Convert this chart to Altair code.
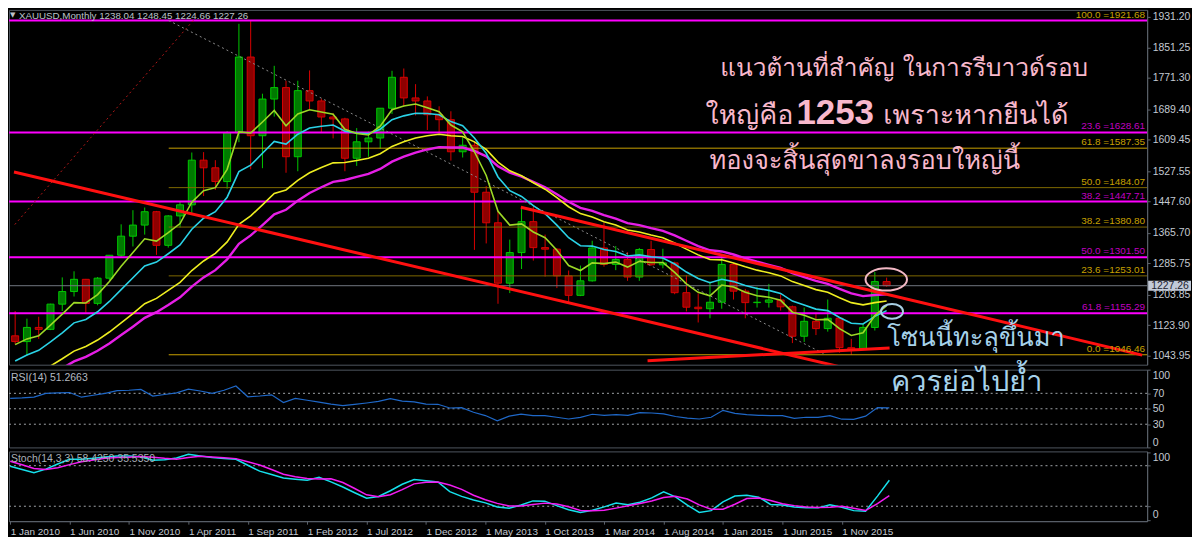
import json
import altair as alt
import pandas as pd

# ---------------- values ----------------
opens = [1096, 1081, 1118, 1113, 1179, 1212, 1244, 1181, 1247, 1307, 1357, 1386,
         1421, 1333, 1410, 1439, 1556, 1536, 1500, 1628, 1826, 1620, 1716, 1746,
         1565, 1738, 1711, 1669, 1664, 1561, 1604, 1614, 1692, 1773, 1719, 1711,
         1675, 1662, 1578, 1595, 1472, 1392, 1234, 1314, 1395, 1327, 1323, 1253,
         1202, 1240, 1326, 1283, 1296, 1250, 1322, 1282, 1287, 1209, 1171, 1167,
         1184, 1283, 1213, 1183, 1184, 1190, 1172, 1095, 1134, 1115, 1142, 1065,
         1061, 1118, 1238.04]
highs = [1161, 1141, 1146, 1180, 1249, 1265, 1245, 1250, 1307, 1388, 1425, 1432,
         1423, 1412, 1447, 1576, 1577, 1556, 1632, 1913, 1921, 1730, 1803, 1764,
         1764, 1791, 1717, 1679, 1667, 1640, 1631, 1692, 1790, 1796, 1755, 1723,
         1697, 1684, 1616, 1605, 1488, 1424, 1348, 1433, 1434, 1361, 1325, 1267,
         1280, 1345, 1392, 1331, 1315, 1326, 1345, 1324, 1290, 1255, 1207, 1238,
         1307, 1287, 1219, 1224, 1232, 1205, 1175, 1170, 1157, 1191, 1143, 1088,
         1128, 1263, 1248.45]
lows = [1074, 1044, 1088, 1111, 1161, 1199, 1157, 1176, 1242, 1300, 1330, 1361,
        1308, 1327, 1380, 1418, 1462, 1478, 1481, 1603, 1532, 1535, 1670, 1523,
        1527, 1689, 1627, 1613, 1527, 1541, 1565, 1586, 1677, 1696, 1673, 1635,
        1626, 1555, 1563, 1321, 1338, 1180, 1208, 1271, 1293, 1251, 1221, 1181,
        1200, 1238, 1277, 1268, 1240, 1240, 1280, 1273, 1205, 1160, 1131, 1142,
        1167, 1191, 1142, 1170, 1170, 1162, 1077, 1080, 1098, 1107, 1052, 1046,
        1060, 1110, 1224.66]
closes = [1081, 1118, 1113, 1179, 1212, 1244, 1181, 1247, 1307, 1357, 1386, 1421,
          1333, 1410, 1439, 1556, 1536, 1500, 1628, 1826, 1620, 1716, 1746, 1565,
          1738, 1711, 1669, 1664, 1561, 1604, 1614, 1692, 1773, 1719, 1711, 1675,
          1662, 1578, 1595, 1472, 1392, 1234, 1314, 1395, 1327, 1323, 1253, 1202,
          1240, 1326, 1283, 1296, 1250, 1322, 1282, 1287, 1209, 1171, 1167, 1184,
          1283, 1213, 1183, 1184, 1190, 1172, 1095, 1134, 1115, 1142, 1065, 1061,
          1118, 1238, 1227.26]

ma_lime = [1073, 1088, 1096, 1124, 1153, 1183, 1182, 1204, 1238, 1278, 1314, 1350,
           1344, 1366, 1390, 1446, 1476, 1484, 1532, 1630, 1627, 1656, 1686, 1646,
           1677, 1688, 1682, 1676, 1637, 1626, 1622, 1645, 1688, 1698, 1703, 1693,
           1683, 1648, 1630, 1578, 1516, 1422, 1386, 1389, 1368, 1353, 1320, 1280,
           1267, 1287, 1285, 1289, 1276, 1291, 1288, 1288, 1262, 1232, 1210, 1201,
           1229, 1224, 1210, 1201, 1197, 1189, 1158, 1150, 1138, 1139, 1115, 1097,
           1104, 1149, 1175]
ma_cyan = [1030, 1046, 1058, 1080, 1104, 1130, 1139, 1159, 1186, 1217, 1248, 1279,
           1289, 1311, 1334, 1375, 1404, 1421, 1459, 1526, 1543, 1574, 1605, 1598,
           1624, 1640, 1645, 1648, 1632, 1627, 1625, 1637, 1662, 1672, 1679, 1678,
           1675, 1657, 1646, 1614, 1574, 1512, 1476, 1461, 1437, 1416, 1386, 1353,
           1332, 1331, 1322, 1317, 1305, 1308, 1303, 1300, 1284, 1263, 1246, 1235,
           1244, 1238, 1228, 1220, 1215, 1207, 1187, 1177, 1166, 1162, 1144, 1129,
           1127, 1147, 1162]
ma_yellow = [974, 988, 1000, 1017, 1036, 1056, 1068, 1085, 1106, 1130, 1154, 1180,
             1194, 1215, 1236, 1267, 1292, 1312, 1342, 1388, 1410, 1439, 1469, 1478,
             1503, 1523, 1537, 1549, 1550, 1555, 1561, 1573, 1592, 1604, 1614, 1620,
             1624, 1620, 1618, 1604, 1584, 1551, 1528, 1515, 1497, 1480, 1458, 1434,
             1416, 1407, 1395, 1386, 1373, 1368, 1360, 1353, 1339, 1323, 1308, 1296,
             1295, 1287, 1277, 1268, 1261, 1253, 1238, 1228, 1217, 1210, 1196, 1183,
             1177, 1183, 1187]
ma_magenta = [955, 968, 979, 994, 1011, 1029, 1041, 1057, 1076, 1098, 1120, 1143,
              1158, 1177, 1197, 1225, 1249, 1268, 1296, 1337, 1359, 1386, 1414, 1426,
              1450, 1470, 1485, 1499, 1504, 1512, 1520, 1533, 1552, 1565, 1576, 1584,
              1590, 1589, 1589, 1580, 1566, 1540, 1523, 1513, 1499, 1485, 1467, 1447,
              1431, 1423, 1412, 1403, 1391, 1386, 1378, 1371, 1359, 1345, 1331, 1320,
              1317, 1309, 1299, 1290, 1282, 1274, 1260, 1250, 1240, 1232, 1219, 1207,
              1200, 1203, 1205]

rsi = [63.5, 64, 65, 70, 70.5, 71, 65, 67.5, 70, 73.5, 74, 75,
       66.5, 68.5, 70.5, 75.5, 73, 70, 74, 79.5, 65.5, 66.5, 68, 58,
       63.5, 61, 58.5, 56, 54, 55.8, 57.5, 59.5, 63, 60, 59, 56,
       55.8, 51, 51.5, 45.5, 41.2, 34.3, 40.5, 43, 41.2, 41.2, 39, 36.8,
       38.8, 42.9, 41.5, 42.5, 41.5, 45, 44.5, 43.5, 40, 38, 36.8, 39,
       48, 44, 42.5, 41.5, 41.2, 41.2, 37.5, 39, 38.8, 41, 36.5, 36.4,
       40.5, 51.5, 51.2663]
stoch_k = [79.3, 74.5, 69.8, 74.9, 82.6, 89.4, 89.4, 91, 93, 94.3, 94.3, 93.4,
           88, 88.9, 91.5, 96.8, 94.5, 92.3, 90.7, 89.5, 80.7, 72, 66.9, 61.8,
           60, 58.4, 63, 56, 48.5, 40, 31.8, 34.4, 42.9, 52.5, 59.4, 57.7,
           56, 41.6, 34.6, 29.3, 25, 18.8, 17, 21.9, 27.9, 27.5, 20.9, 14.8,
           10.9, 14, 19.1, 24.9, 22.3, 25.9, 32.3, 41.3, 33.8, 21.8, 10.8, 13.5,
           26.6, 35, 36.3, 33.4, 22.6, 21.9, 19, 17.6, 17.6, 22, 18.4, 13.5,
           12.7, 35, 58.425]
stoch_d = [86.7, 81.3, 75.9, 74.4, 77, 81.6, 85.8, 88.5, 91.1, 92, 92.7, 93.5,
           92.7, 91, 89.7, 92.3, 94, 92.9, 91.7, 90.5, 85.9, 81, 74.3, 67.5,
           63.8, 61.2, 60.2, 60.8, 55.2, 46.3, 36.9, 34.2, 37, 44.5, 53.1, 55.4,
           55.9, 51.4, 45, 36.3, 29.5, 24.2, 20.3, 20.4, 22.6, 24.6, 23.3, 19.2,
           13.7, 13.3, 14.1, 17.2, 20.7, 24, 27.8, 33, 34.8, 30.6, 22, 15.6,
           15.6, 22.9, 31.4, 32.3, 28.6, 23.6, 20.9, 18.8, 18, 18.5, 20, 17,
           13.6, 24, 35.535]

x_tick_labels = ["1 Jan 2010", "1 Jun 2010", "1 Nov 2010", "1 Apr 2011", "1 Sep 2011",
                 "1 Feb 2012", "1 Jul 2012", "1 Dec 2012", "1 May 2013", "1 Oct 2013",
                 "1 Mar 2014", "1 Aug 2014", "1 Jan 2015", "1 Jun 2015", "1 Nov 2015"]
price_ticks = [1931.20, 1851.25, 1771.30, 1689.40, 1609.45, 1527.55, 1447.60,
               1365.70, 1285.75, 1203.85, 1123.90, 1043.95]

magenta_fib_levels = ["0.0", "23.6", "38.2", "50.0", "61.8"]
magenta_fib_prices = [1921.68, 1628.61, 1447.71, 1301.50, 1155.29]
gold_fib_levels = ["100.0", "61.8", "50.0", "38.2", "23.6", "0.0"]
gold_fib_prices = [1921.68, 1587.35, 1484.07, 1380.80, 1253.01, 1046.46]
gold_fib_start = 13.04

# trendlines (month index, price) pairs
red_lines_i = [-0.1, 42.94, 53.7]
red_lines_p = [1525.0, 1432.8, 1030.9]
red_lines_i2 = [75.0, 95.7, 74.25]
red_lines_p2 = [978.8, 1045.5, 1064.0]
dot_gray = [(13.04, 1921.68), (68.85, 1046.46)]
dot_red = [(15.12, 1921.68), (-0.1, 1385.0)]

# ---------------- layout ----------------
W = 1142
H_MAIN, H_RSI, H_STO = 356, 78, 70
X_DOM = [-0.1, 95.7]
AXIS_COL = "#5c636c"
LABEL_COL = "#c4cad2"
FONT = "Liberation Sans"
THAI = ("Loma, Garuda, Noto Sans Thai Looped, Tahoma, Waree, Norasi, "
        "Noto Sans Thai, TlwgTypo, Noto Sans, sans-serif")
BULL_FILL, BULL_LINE = "#007a00", "#00c800"
BEAR_FILL, BEAR_LINE = "#8e0000", "#d80000"

n = len(closes)
idx = list(range(n))
candles = pd.DataFrame({"i": idx, "o": opens, "h": highs, "l": lows, "c": closes})
mas = pd.DataFrame({"i": idx, "lime": ma_lime, "cyan": ma_cyan,
                    "yellow": ma_yellow, "magenta": ma_magenta})
osc = pd.DataFrame({"i": idx, "rsi": rsi, "k": stoch_k, "d": stoch_d})

xs = alt.Scale(domain=X_DOM, nice=False, zero=False)
ys = alt.Scale(domain=[1020.45, 1949.47], nice=False, zero=False)

main_axis = alt.Axis(orient="right", values=price_ticks, format=".2f", grid=False,
                     title=None, domainColor=AXIS_COL, tickColor=AXIS_COL, tickSize=3,
                     labelPadding=2, labelColor=LABEL_COL, labelFont=FONT,
                     labelFontSize=10.5)


def XM(f="i"):
    return alt.X(f"{f}:Q", scale=xs, axis=None)


def YM(f):
    return alt.Y(f"{f}:Q", scale=ys, axis=main_axis)


up = alt.datum.c >= alt.datum.o

wicks = alt.Chart(candles).mark_rule(strokeWidth=1, clip=True).encode(
    x=XM(), y=YM("l"), y2="h:Q",
    color=alt.condition(up, alt.value(BULL_LINE), alt.value(BEAR_LINE)))
bodies = alt.Chart(candles).mark_bar(size=7, strokeWidth=1, clip=True,
                                     orient="vertical").encode(
    x=XM(), y=YM("o"), y2="c:Q",
    fill=alt.condition(up, alt.value(BULL_FILL), alt.value(BEAR_FILL)),
    stroke=alt.condition(up, alt.value(BULL_LINE), alt.value(BEAR_LINE)))


def ma_line(col, color, w):
    return alt.Chart(mas).mark_line(color=color, strokeWidth=w, clip=True).encode(
        x=XM(), y=YM(col))


ma_layers = [ma_line("magenta", "#e61ee6", 2.4), ma_line("yellow", "#eeee20", 1.6),
             ma_line("cyan", "#2ad2e6", 1.6), ma_line("lime", "#9cd826", 1.6)]

mag_df = pd.DataFrame({"lvl": magenta_fib_levels, "p": magenta_fib_prices})
gold_df = pd.DataFrame({"lvl": gold_fib_levels, "p": gold_fib_prices,
                        "s": [gold_fib_start] * len(gold_fib_levels)})
mag_df["t"] = [f"{l} ={p:.2f}" for l, p in zip(magenta_fib_levels, magenta_fib_prices)]
gold_df["t"] = [f"{l} ={p:.2f}" for l, p in zip(gold_fib_levels, gold_fib_prices)]

bright = "indexof(['100.0','61.8','0.0'], datum.lvl) >= 0"
gold_rules = alt.Chart(gold_df).mark_rule(strokeWidth=1, clip=True).encode(
    x=XM("s"), x2=alt.value(W), y=YM("p"),
    color=alt.condition(bright, alt.value("#c8a000"), alt.value("#7e6800")))
mag_rules = alt.Chart(mag_df).mark_rule(strokeWidth=2, color="#ff00ff", clip=True).encode(
    y=YM("p"))
mag_labels = alt.Chart(mag_df[mag_df.lvl != "0.0"]).mark_text(
    align="right", baseline="bottom", dy=-1, fontSize=10, font=FONT,
    color="#c000c0").encode(x=alt.value(W - 2), y=YM("p"), text="t:N")
gold_labels = alt.Chart(gold_df).mark_text(
    align="right", baseline="bottom", dy=-1, fontSize=10, font=FONT,
    color="#c8a000").encode(x=alt.value(W - 2), y=YM("p"), text="t:N")

last_df = pd.DataFrame({"p": [closes[-1]], "t": [f"{closes[-1]:.2f}"]})
price_line = alt.Chart(last_df).mark_rule(color="#707780", strokeWidth=1).encode(y=YM("p"))
price_box = alt.Chart(last_df).mark_rect(color="#c2cad8", yOffset=-5, y2Offset=5,
                                         clip=False).encode(
    x=alt.value(W + 1), x2=alt.value(W + 44), y=YM("p"), y2="p:Q")
price_txt = alt.Chart(last_df).mark_text(align="left", baseline="middle", font=FONT,
                                         fontSize=10.5, color="#1c2230").encode(
    x=alt.value(W + 4), y=YM("p"), text="t:N")

red_df = pd.DataFrame({"i": red_lines_i, "p": red_lines_p,
                       "i2": red_lines_i2, "p2": red_lines_p2})
red_rules = alt.Chart(red_df).mark_rule(color="#ff1010", strokeWidth=3, clip=True).encode(
    x=XM("i"), y=YM("p"), x2="i2:Q", y2="p2:Q")
dots_df = pd.DataFrame({"i": [dot_gray[0][0], dot_red[0][0]],
                        "p": [dot_gray[0][1], dot_red[0][1]],
                        "i2": [dot_gray[1][0], dot_red[1][0]],
                        "p2": [dot_gray[1][1], dot_red[1][1]],
                        "k": ["gray", "red"]})
dot_rules = alt.Chart(dots_df).mark_rule(strokeWidth=1, strokeDash=[2, 3], clip=True).encode(
    x=XM("i"), y=YM("p"), x2="i2:Q", y2="p2:Q",
    color=alt.Color("k:N", scale=alt.Scale(domain=["gray", "red"],
                                           range=["#8a8a8a", "#b01818"]), legend=None))

title_df = pd.DataFrame({"t": [f"XAUUSD,Monthly  {opens[-1]:.2f} {highs[-1]:.2f} "
                               f"{lows[-1]:.2f} {closes[-1]:.2f}"], "a": ["\u25BC"]})
title_txt = alt.Chart(title_df).mark_text(align="left", baseline="alphabetic", font=FONT,
                                          fontSize=9.8, color="#bcc2c8").encode(
    x=alt.value(10), y=alt.value(9), text="t:N")
title_tri = alt.Chart(title_df).mark_text(align="left", baseline="alphabetic",
                                          font="DejaVu Sans", fontSize=7,
                                          color="#bcc2c8").encode(
    x=alt.value(1), y=alt.value(7), text="a:N")


def note(text, i, p, size, color, weight="normal", font=THAI):
    d = pd.DataFrame({"i": [i], "p": [p], "t": [text]})
    return alt.Chart(d).mark_text(align="left", baseline="alphabetic", fontSize=size,
                                  font=font, color=color, fontWeight=weight).encode(
        x=XM("i"), y=YM("p"), text="t:N")


PINK = "#f8b8cc"
BLUE = "#a6d2ea"
notes = [
    note("แนวต้านที่สำคัญ ในการรีบาวด์รอบ", 59.88, 1776, 24.5, PINK),
    note("ใหญ่คือ", 58.62, 1649.4, 27, PINK),
    note("1253", 66.34, 1649.4, 35, PINK, weight="bold", font=FONT),
    note("เพราะหากยืนได้", 73.72, 1649.4, 27, PINK),
    note("ทองจะสิ้นสุดขาลงรอบใหญ่นี้", 58.96, 1533, 25.5, PINK),
    note("โซนนี้ทะลุขึ้นมา", 74.06, 1070, 25.5, BLUE),
]

ell_pink = alt.Chart(pd.DataFrame({"i": [73.97], "p": [1243.7]})).mark_point(
    shape="M -1 0 A 1 0.54 0 1 1 1 0 A 1 0.54 0 1 1 -1 0 Z", size=1730,
    filled=False, strokeWidth=2, color="#f2b8c4", opacity=1).encode(x=XM(), y=YM("p"))
ell_blue = alt.Chart(pd.DataFrame({"i": [74.46], "p": [1160.0]})).mark_point(
    shape="M -1 0 A 1 0.68 0 1 1 1 0 A 1 0.68 0 1 1 -1 0 Z", size=484,
    filled=False, strokeWidth=2, color="#a8cfe4", opacity=1).encode(x=XM(), y=YM("p"))

main = alt.layer(
    wicks, bodies, gold_rules, mag_rules, price_line, dot_rules, *ma_layers, red_rules,
    mag_labels, gold_labels, price_box, price_txt, title_tri, title_txt, *notes,
    ell_pink, ell_blue
).properties(width=W, height=H_MAIN)

# ---------------- RSI panel ----------------
rs = alt.Scale(domain=[0, 100.6], nice=False, zero=False)
rsi_axis = alt.Axis(orient="right", values=[0, 30, 50, 70, 100], grid=False, title=None,
                    domainColor=AXIS_COL, tickColor=AXIS_COL, tickSize=3, labelPadding=2,
                    labelColor=LABEL_COL, labelFont=FONT, labelFontSize=10.5,
                    labelFlush=6)
rsi_levels = pd.DataFrame({"v": [70, 50, 30]})
rsi_rules = alt.Chart(rsi_levels).mark_rule(color="#a0a4a8", strokeDash=[2, 3],
                                            strokeWidth=1).encode(
    y=alt.Y("v:Q", scale=rs, axis=rsi_axis))
rsi_line = alt.Chart(osc).mark_line(color="#1f68c8", strokeWidth=1.2, clip=True).encode(
    x=XM(), y=alt.Y("rsi:Q", scale=rs, axis=rsi_axis))
rsi_lbl = alt.Chart(pd.DataFrame({"t": [f"RSI(14) {rsi[-1]:.4f}"]})).mark_text(
    align="left", baseline="middle", font=FONT, fontSize=10.5, color="#b4bac2").encode(
    x=alt.value(2), y=alt.value(8), text="t:N")
rsi_note = alt.Chart(pd.DataFrame({"i": [74.14], "v": [72.6], "t": ["ควรย่อไปย้ำ"]})).mark_text(
    align="left", baseline="alphabetic", fontSize=29, font=THAI, color=BLUE).encode(
    x=XM(), y=alt.Y("v:Q", scale=rs, axis=rsi_axis), text="t:N")
rsi_chart = alt.layer(rsi_rules, rsi_line, rsi_lbl, rsi_note).properties(
    width=W, height=H_RSI)

# ---------------- Stochastic panel ----------------
ss = alt.Scale(domain=[-2.1, 101.2], nice=False, zero=False)
sto_axis = alt.Axis(orient="right", values=[0, 20, 80, 100], grid=False, title=None,
                    domainColor=AXIS_COL, tickColor=AXIS_COL, tickSize=3, labelPadding=2,
                    labelColor=LABEL_COL, labelFont=FONT, labelFontSize=10.5,
                    labelFlush=6)
x_axis = alt.Axis(values=list(range(0, 5 * len(x_tick_labels), 5)),
                  labelExpr=f"{json.dumps(x_tick_labels)}[round(datum.value/5)]",
                  labelAlign="left", labelColor=LABEL_COL, labelFont=FONT,
                  labelFontSize=10, tickSize=3, tickColor=AXIS_COL,
                  domainColor=AXIS_COL, grid=False, title=None, labelPadding=2,
                  labelOverlap=False, labelFlush=False)


def XS(f="i"):
    return alt.X(f"{f}:Q", scale=xs, axis=x_axis)


sto_levels = pd.DataFrame({"i": [X_DOM[0], X_DOM[0]], "v": [80, 20]})
sto_rules = alt.Chart(sto_levels).mark_rule(color="#a0a4a8", strokeDash=[2, 3],
                                            strokeWidth=1).encode(
    x=XS(), x2=alt.value(W), y=alt.Y("v:Q", scale=ss, axis=sto_axis))
k_line = alt.Chart(osc).mark_line(color="#16e0ec", strokeWidth=1.5, clip=True).encode(
    x=XS(), y=alt.Y("k:Q", scale=ss, axis=sto_axis))
d_line = alt.Chart(osc).mark_line(color="#f21cf2", strokeWidth=1.5, clip=True).encode(
    x=XS(), y=alt.Y("d:Q", scale=ss, axis=sto_axis))
sto_lbl = alt.Chart(pd.DataFrame({"t": [f"Stoch(14,3,3) {stoch_k[-1]:.4f} {stoch_d[-1]:.4f}"]})).mark_text(
    align="left", baseline="middle", font=FONT, fontSize=10.5, color="#a8aeb6").encode(
    x=alt.value(2), y=alt.value(8), text="t:N")
sto_chart = alt.layer(sto_rules, k_line, d_line, sto_lbl).properties(width=W, height=H_STO)

chart = alt.vconcat(main, rsi_chart, sto_chart, spacing=2).properties(
    background="#000000", padding=0
).configure_view(stroke="#4e555e", strokeWidth=1)

chart.save("out.html", embed_options={"renderer": "svg", "actions": False})
